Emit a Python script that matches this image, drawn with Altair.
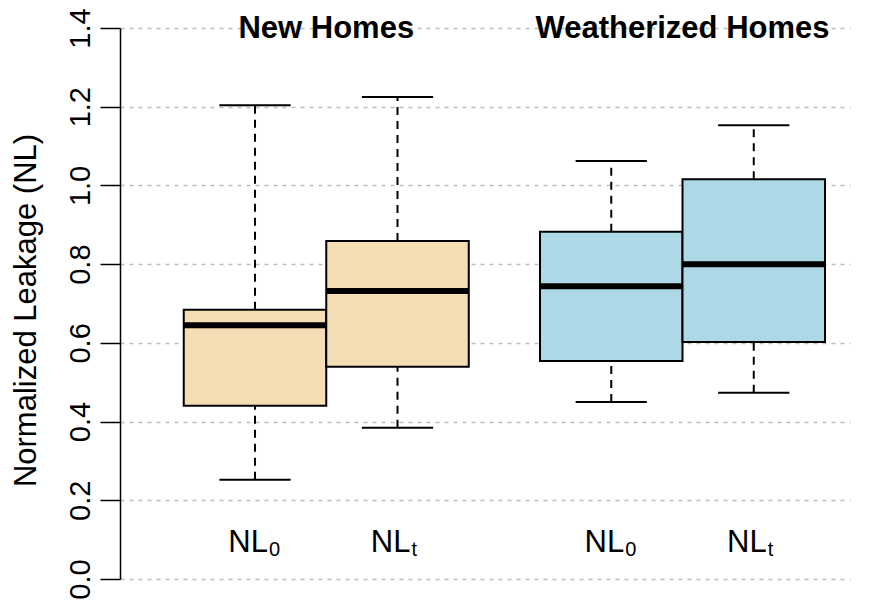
import altair as alt
import pandas as pd

# ---- data ----
groups = ["New Homes", "New Homes", "Weatherized Homes", "Weatherized Homes"]
subscripts = ["0", "t", "0", "t"]
positions = [1.0, 2.0, 3.5, 4.5]
lower_whisker = [0.252, 0.384, 0.450, 0.473]
q1 = [0.440, 0.539, 0.554, 0.602]
median = [0.645, 0.732, 0.744, 0.800]
q3 = [0.684, 0.859, 0.882, 1.016]
upper_whisker = [1.204, 1.225, 1.062, 1.153]
fill_colors = ["#F5DEB3", "#ADD8E6"]

group_titles = ["New Homes", "Weatherized Homes"]
group_title_positions = [1.5, 4.0]
y_ticks = [0.0, 0.2, 0.4, 0.6, 0.8, 1.0, 1.2, 1.4]
label_level = 0.0686
title_level = 1.3745

df = pd.DataFrame({
    "group": groups, "sub": subscripts, "pos": positions,
    "lo": lower_whisker, "q1": q1, "med": median, "q3": q3, "hi": upper_whisker,
})
df["left"] = df["pos"] - 0.5
df["right"] = df["pos"] + 0.5
df["capl"] = df["pos"] - 0.25
df["capr"] = df["pos"] + 0.25
df["label_y"] = label_level

titles_df = pd.DataFrame({"title": group_titles, "pos": group_title_positions,
                          "y": [title_level] * len(group_titles)})

FONT = "Liberation Sans"
xs = alt.Scale(domain=[0.0526, 5.1754], nice=False, zero=False)
ys = alt.Scale(domain=[0, 1.4], nice=False, zero=False)
color = alt.Color("group:N", scale=alt.Scale(domain=group_titles, range=fill_colors), legend=None)

base = alt.Chart(df)

yaxis = alt.Axis(values=y_ticks, format=".1f", labelAngle=-90, labelAlign="center",
                 labelBaseline="alphabetic", labelFontSize=29, labelFont=FONT, labelColor="black",
                 labelPadding=11, tickSize=20, tickColor="black", tickWidth=1.5,
                 domainColor="black", domainWidth=1.5,
                 grid=True, gridColor="#bebebe", gridDash=[4, 5], gridWidth=1.5,
                 title="Normalized Leakage (NL)", titleFont=FONT, titleFontSize=31,
                 titleFontWeight="normal", titleColor="black", titleAngle=-90,
                 titleAlign="center", titleBaseline="alphabetic", titleX=-85, titleY=282)

lower = base.mark_rule(color="black", strokeWidth=2, strokeDash=[8, 6]).encode(
    x=alt.X("pos:Q", scale=xs, axis=None),
    y=alt.Y("lo:Q", scale=ys, axis=yaxis),
    y2="q1:Q",
)
upper = base.mark_rule(color="black", strokeWidth=2, strokeDash=[8, 6]).encode(
    x=alt.X("pos:Q", scale=xs), y=alt.Y("q3:Q", scale=ys), y2="hi:Q")
cap_lo = base.mark_rule(color="black", strokeWidth=2).encode(
    x=alt.X("capl:Q", scale=xs), x2="capr:Q", y=alt.Y("lo:Q", scale=ys))
cap_hi = base.mark_rule(color="black", strokeWidth=2).encode(
    x=alt.X("capl:Q", scale=xs), x2="capr:Q", y=alt.Y("hi:Q", scale=ys))
boxes = base.mark_rect(stroke="black", strokeWidth=2).encode(
    x=alt.X("left:Q", scale=xs), x2="right:Q",
    y=alt.Y("q1:Q", scale=ys), y2="q3:Q", color=color)
med = base.mark_rule(color="black", strokeWidth=6).encode(
    x=alt.X("left:Q", scale=xs), x2="right:Q", y=alt.Y("med:Q", scale=ys))

nl = base.mark_text(text="NL", font=FONT, fontSize=31, align="right",
                    baseline="alphabetic", dx=13, color="black").encode(
    x=alt.X("pos:Q", scale=xs), y=alt.Y("label_y:Q", scale=ys))
sub = base.mark_text(font=FONT, fontSize=20, align="left", baseline="alphabetic",
                     dx=14, dy=4, color="black").encode(
    x=alt.X("pos:Q", scale=xs), y=alt.Y("label_y:Q", scale=ys), text="sub:N")

titles = alt.Chart(titles_df).mark_text(font=FONT, fontSize=31, fontWeight="bold",
                                        align="center", baseline="alphabetic",
                                        color="black").encode(
    x=alt.X("pos:Q", scale=xs), y=alt.Y("y:Q", scale=ys), text="title:N")

chart = alt.layer(lower, upper, cap_lo, cap_hi, boxes, med, nl, sub, titles).properties(
    width=730, height=551,
    padding={"left": 112, "top": 20, "right": 10, "bottom": 25},
    autosize=alt.AutoSizeParams(type="none"),
).configure(background="white", view=alt.ViewConfig(stroke=None))

chart.save("out.html", embed_options={"renderer": "svg", "actions": False})
